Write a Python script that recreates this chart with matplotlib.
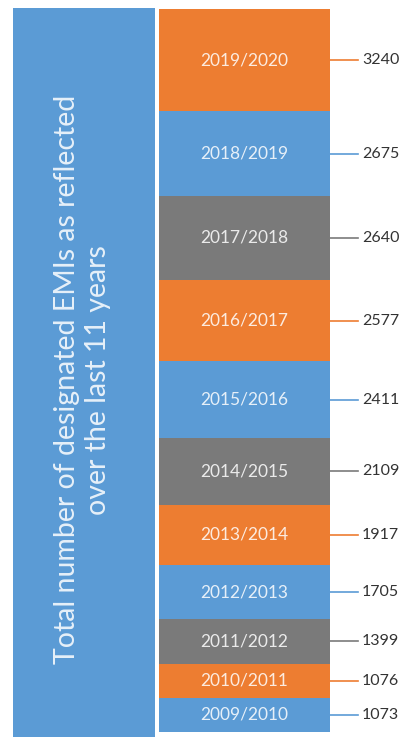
import numpy as np
import matplotlib.pyplot as plt
import matplotlib.transforms as mtransforms

plt.rcParams['font.family'] = ['Lato', 'DejaVu Sans']

# --- Data (bottom to top) ---
seasons = ["2009/2010", "2010/2011", "2011/2012", "2012/2013", "2013/2014",
           "2014/2015", "2015/2016", "2016/2017", "2017/2018", "2018/2019", "2019/2020"]
emis = [1073, 1076, 1399, 1705, 1917, 2109, 2411, 2577, 2640, 2675, 3240]
panel_title = "Total number of designated EMIs as reflected\nover the last 11 years"

blue = "#5B9BD5"
orange = "#ED7D31"
gray = "#7A7A7A"
colors = [blue, orange, gray] * 4

W, H = 405, 737
fig = plt.figure(figsize=(W / 100, H / 100), dpi=100)
fig.patch.set_facecolor("white")

# --- Left panel with the vertical title ---
pax = fig.add_axes([13 / W, 0, 142 / W, (H - 8) / H])
pax.set_facecolor(blue)
pax.set_xticks([])
pax.set_yticks([])
for s in pax.spines.values():
    s.set_visible(False)
pax.text(0.49, 0.49, panel_title, rotation=90, ha="center", va="center",
         color="white", alpha=0.85, fontsize=20.5, linespacing=1.25,
         multialignment="center", transform=pax.transAxes)

# --- Stacked column ---
vals = np.array(emis)
bottoms = np.concatenate([[0], np.cumsum(vals)[:-1]])
total = vals.sum()

ax = fig.add_axes([159 / W, 0, (330 - 159) / W, 1])
ax.bar(0, vals, bottom=bottoms, width=1.0, color=colors[:len(vals)], linewidth=0)
ax.set_xlim(-0.5, 0.5)
px = 699 / (total - vals[0])  # pixels per unit
ax.set_ylim(-(742.5 - H) / px, 742.5 / px)
ax.axis("off")

trans = mtransforms.blended_transform_factory(ax.transAxes, ax.transData)
for lab, v, b, c in zip(seasons, vals, bottoms, colors):
    mid = b + v / 2
    ax.text(0, mid, lab, ha="center", va="center", color="white", alpha=0.85,
            fontsize=12.5)
    ax.plot([1.0, 1.0 + 28 / 171], [mid, mid], color=c, lw=1.2,
            transform=trans, clip_on=False)
    ax.text(1.0 + 32 / 171, mid, str(v), ha="left", va="center",
            color="#333333", fontsize=11.5, transform=trans, clip_on=False)

fig.savefig("out.png", dpi=100)
